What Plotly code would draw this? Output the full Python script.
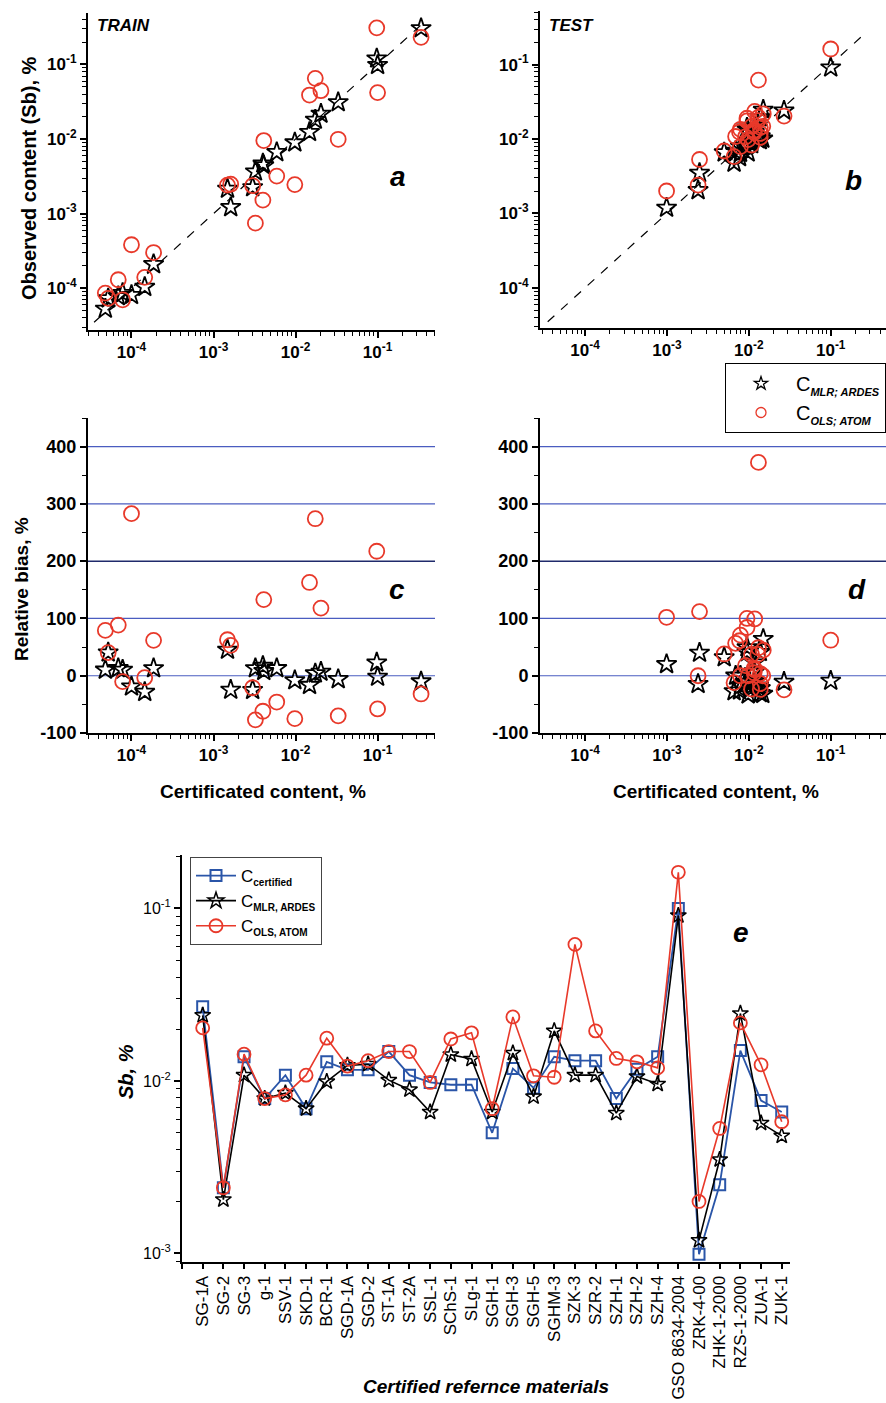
import plotly.graph_objects as go

# ---------------- DATA ----------------
# Training set (panels a, c): certified vs observed Sb content, %
train_cert = [4.8e-5, 5.2e-5, 6.9e-5, 7.8e-5, 1.0e-4, 1.45e-4, 1.86e-4, 1.48e-3, 1.62e-3,
              3.0e-3, 3.24e-3, 4.0e-3, 4.1e-3, 5.9e-3, 9.8e-3, 0.0148, 0.0174, 0.0204,
              0.0331, 0.0977, 0.100, 0.339]
train_mlr = [5.3e-5, 7.3e-5, 7.8e-5, 8.6e-5, 8.1e-5, 1.04e-4, 2.1e-4, 2.15e-3, 1.22e-3,
             2.25e-3, 3.66e-3, 4.68e-3, 4.43e-3, 6.67e-3, 9.0e-3, 0.0124, 0.0181, 0.0218,
             0.0311, 0.120, 0.098, 0.305]
train_ols = [8.6e-5, 7.3e-5, 1.30e-4, 7.0e-5, 3.83e-4, 1.40e-4, 3.01e-4, 2.41e-3, 2.48e-3,
             2.37e-3, 7.45e-4, 1.52e-3, 9.55e-3, 3.19e-3, 2.45e-3, 0.0389, 0.0651, 0.0445,
             0.00993, 0.310, 0.042, 0.231]

# Test set (panels b, d, e): certified reference materials
crm_names = ["SG-1A", "SG-2", "SG-3", "g-1", "SSV-1", "SKD-1", "BCR-1", "SGD-1A", "SGD-2",
             "ST-1A", "ST-2A", "SSL-1", "SChS-1", "SLg-1", "SGH-1", "SGH-3", "SGH-5",
             "SGHM-3", "SZK-3", "SZR-2", "SZH-1", "SZH-2", "SZH-4", "GSO 8634-2004",
             "ZRK-4-00", "ZHK-1-2000", "RZS-1-2000", "ZUA-1", "ZUK-1"]
c_certified = [0.0269, 0.0024, 0.0138, 0.0079, 0.0108, 0.0069, 0.0129, 0.0116, 0.0116,
               0.0148, 0.0108, 0.0098, 0.0095, 0.0095, 0.0050, 0.0118, 0.0091, 0.0138,
               0.0131, 0.0131, 0.0079, 0.0117, 0.0138, 0.100, 0.00099, 0.0025, 0.0150,
               0.0077, 0.0066]
c_mlr = [0.0240, 0.00205, 0.0108, 0.0079, 0.0085, 0.0069, 0.0099, 0.0123, 0.0125,
         0.0101, 0.0089, 0.0066, 0.0142, 0.0134, 0.0066, 0.0145, 0.0081, 0.0195,
         0.0108, 0.0108, 0.0065, 0.0106, 0.0096, 0.091, 0.00119, 0.0035, 0.0246,
         0.0057, 0.0048]
c_ols = [0.0203, 0.0024, 0.0143, 0.0079, 0.0083, 0.0108, 0.0177, 0.0122, 0.0131,
         0.0148, 0.0148, 0.0098, 0.0175, 0.0190, 0.0069, 0.0235, 0.0107, 0.0105,
         0.0619, 0.0195, 0.0135, 0.0129, 0.0119, 0.162, 0.0020, 0.0053, 0.0217,
         0.0124, 0.0058]

diag_train = [3.5e-5, 0.35]
diag_test = [3.5e-5, 0.26]
bias_lines = [0, 100, 200, 300, 400]

log_ticks = [1e-4, 1e-3, 1e-2, 1e-1]
log_ticktext = ["10<sup>-4</sup>", "10<sup>-3</sup>", "10<sup>-2</sup>", "10<sup>-1</sup>"]
e_ticks = [1e-3, 1e-2, 1e-1]
e_ticktext = ["10<sup>-3</sup>", "10<sup>-2</sup>", "10<sup>-1</sup>"]
bias_ticks = [-100, 0, 100, 200, 300, 400]
bias_ticktext = ["-100", "0", "100", "200", "300", "400"]


def rel_bias(obs, cert):
    return [100.0 * (o - c) / c for o, c in zip(obs, cert)]


# ---------------- STYLE ----------------
FONT = "Liberation Sans, Arial, sans-serif"
RED = "#e8392a"
BLUE = "#2a55a8"
W, H = 886, 1403


def px_x(p):
    return p / W


def px_y(p):
    return 1 - p / H


star_m = dict(symbol="star-open", size=15, color="black", line=dict(color="black", width=1.8))
circ_m = dict(symbol="circle-open", size=15, color=RED, line=dict(color=RED, width=1.8))

fig = go.Figure()

# panel a
fig.add_trace(go.Scatter(x=diag_train, y=diag_train, mode="lines", xaxis="x", yaxis="y",
                         line=dict(color="black", width=1.2, dash="dash"), showlegend=False))
fig.add_trace(go.Scatter(x=train_cert, y=train_mlr, mode="markers", xaxis="x", yaxis="y",
                         marker=star_m, showlegend=False))
fig.add_trace(go.Scatter(x=train_cert, y=train_ols, mode="markers", xaxis="x", yaxis="y",
                         marker=circ_m, showlegend=False))
# panel b
fig.add_trace(go.Scatter(x=diag_test, y=diag_test, mode="lines", xaxis="x2", yaxis="y2",
                         line=dict(color="black", width=1.2, dash="dash"), showlegend=False))
fig.add_trace(go.Scatter(x=c_certified, y=c_mlr, mode="markers", xaxis="x2", yaxis="y2",
                         marker=star_m, showlegend=False))
fig.add_trace(go.Scatter(x=c_certified, y=c_ols, mode="markers", xaxis="x2", yaxis="y2",
                         marker=circ_m, showlegend=False))
# panel c
fig.add_trace(go.Scatter(x=train_cert, y=rel_bias(train_mlr, train_cert), mode="markers",
                         xaxis="x3", yaxis="y3", marker=star_m, showlegend=False))
fig.add_trace(go.Scatter(x=train_cert, y=rel_bias(train_ols, train_cert), mode="markers",
                         xaxis="x3", yaxis="y3", marker=circ_m, showlegend=False))
# panel d
fig.add_trace(go.Scatter(x=c_certified, y=rel_bias(c_mlr, c_certified), mode="markers",
                         xaxis="x4", yaxis="y4", marker=star_m, showlegend=False))
fig.add_trace(go.Scatter(x=c_certified, y=rel_bias(c_ols, c_certified), mode="markers",
                         xaxis="x4", yaxis="y4", marker=circ_m, showlegend=False))

# legend entries for a-d
sub1 = "<span style='font-size:11px'><b><i>%s</i></b></span>"
fig.add_trace(go.Scatter(x=[None], y=[None], mode="markers", xaxis="x", yaxis="y",
                         marker=dict(symbol="star-open", size=10, color="black",
                                     line=dict(color="black", width=1.3)),
                         name="C<sub>" + sub1 % "MLR; ARDES" + "</sub>", legend="legend"))
fig.add_trace(go.Scatter(x=[None], y=[None], mode="markers", xaxis="x", yaxis="y",
                         marker=dict(symbol="circle-open", size=10, color=RED,
                                     line=dict(color=RED, width=1.3)),
                         name="C<sub>" + sub1 % "OLS; ATOM" + "</sub>", legend="legend"))

# panel e
idx = list(range(len(crm_names)))
sub2 = "<span style='font-size:10px'><b>%s</b></span>"
fig.add_trace(go.Scatter(x=idx, y=c_certified, mode="lines+markers", xaxis="x5", yaxis="y5",
                         line=dict(color=BLUE, width=1.8),
                         marker=dict(symbol="square-open", size=11, color=BLUE,
                                     line=dict(color=BLUE, width=2)),
                         name="C<sub>" + sub2 % "certified" + "</sub>", legend="legend2"))
fig.add_trace(go.Scatter(x=idx, y=c_mlr, mode="lines+markers", xaxis="x5", yaxis="y5",
                         line=dict(color="black", width=1.6),
                         marker=dict(symbol="star-open", size=12, color="black",
                                     line=dict(color="black", width=1.5)),
                         name="C<sub>" + sub2 % "MLR, ARDES" + "</sub>", legend="legend2"))
fig.add_trace(go.Scatter(x=idx, y=c_ols, mode="lines+markers", xaxis="x5", yaxis="y5",
                         line=dict(color=RED, width=1.6),
                         marker=dict(symbol="circle-open", size=13, color=RED,
                                     line=dict(color=RED, width=1.8)),
                         name="C<sub>" + sub2 % "OLS, ATOM" + "</sub>", legend="legend2"))

# ---------------- AXES ----------------
minor_log = [m * 10.0 ** e for e in range(-6, 1) for m in range(2, 10)]
base = dict(showline=True, linecolor="black", linewidth=2, ticks="outside", ticklen=6,
            tickwidth=1.5, tickcolor="black", showgrid=False, zeroline=False,
            automargin=False, mirror=False)
minor_l = dict(tickmode="array", tickvals=minor_log, ticks="outside", ticklen=4,
               tickcolor="black", tickwidth=1.2, showgrid=False)
logx = dict(base, type="log", tickmode="array", tickvals=log_ticks, ticktext=log_ticktext,
            tickfont=dict(family=FONT, size=17, color="black", weight="bold"),
            minor=minor_l)
biasy = dict(base, range=[-100, 450], tickmode="array",
             tickvals=bias_ticks, ticktext=bias_ticktext,
             tickfont=dict(family=FONT, size=18, color="black", weight="bold"),
             minor=dict(dtick=50, tick0=0, ticks="outside", ticklen=4, tickcolor="black",
                        tickwidth=1.2, showgrid=False))

xa_dom = [px_x(88), px_x(435)]
xb_dom = [px_x(540), 1.0]
y_cd_dom = [px_y(733), px_y(418)]

fig.update_layout(
    xaxis=dict(logx, domain=xa_dom, range=[-4.53, -0.30], anchor="y"),
    yaxis=dict(logx, domain=[px_y(330), px_y(13)], range=[-4.56, -0.31], anchor="x"),
    xaxis2=dict(logx, domain=xb_dom, range=[-4.55, -0.325], anchor="y2"),
    yaxis2=dict(logx, domain=[px_y(328), px_y(11)], range=[-4.54, -0.28], anchor="x2"),
    xaxis3=dict(logx, domain=xa_dom, range=[-4.53, -0.30], anchor="y3"),
    yaxis3=dict(biasy, domain=y_cd_dom, anchor="x3"),
    xaxis4=dict(logx, domain=xb_dom, range=[-4.55, -0.325], anchor="y4"),
    yaxis4=dict(biasy, domain=y_cd_dom, anchor="x4"),
    xaxis5=dict(base, domain=[px_x(182), px_x(790)], range=[-1, 28.4], anchor="y5",
                tickmode="array", tickvals=[-1] + idx, ticktext=[""] + crm_names,
                tickangle=-90, ticklen=5,
                tickfont=dict(family=FONT, size=17, color="black")),
    yaxis5=dict(base, type="log", domain=[px_y(1262), px_y(855)], range=[-3.05, -0.69],
                anchor="x5", tickmode="array", tickvals=e_ticks, ticktext=e_ticktext,
                tickfont=dict(family=FONT, size=16, color="black"), minor=minor_l),
    width=W, height=H, margin=dict(l=0, r=0, t=0, b=0),
    paper_bgcolor="white", plot_bgcolor="white",
    font=dict(family=FONT, color="black"),
    legend=dict(x=px_x(725), y=px_y(363), xanchor="left", yanchor="top",
                bordercolor="black", borderwidth=1, bgcolor="white",
                font=dict(family=FONT, size=20, color="black"), itemwidth=60,
                tracegroupgap=0),
    legend2=dict(x=px_x(190), y=px_y(857), xanchor="left", yanchor="top",
                 bordercolor="#444", borderwidth=1, bgcolor="white",
                 font=dict(family=FONT, size=17, color="black"), itemwidth=40,
                 tracegroupgap=0),
)

# horizontal reference lines in c, d
shapes = []
for xr, yr in (("x3 domain", "y3"), ("x4 domain", "y4")):
    for v in bias_lines:
        shapes.append(dict(type="line", xref=xr, yref=yr, x0=0, x1=1, y0=v, y1=v,
                           line=dict(color="#1f2a6b" if v == 200 else "#4a5cc0",
                                     width=1.6 if v == 200 else 1.2),
                           layer="below"))
fig.update_layout(shapes=shapes)


def ann(text, x, y, size, angle=0, xanchor="center", bold=True, italic=False):
    t = text
    if italic:
        t = "<i>" + t + "</i>"
    if bold:
        t = "<b>" + t + "</b>"
    fig.add_annotation(text=t, x=px_x(x), y=px_y(y), xref="paper", yref="paper",
                       showarrow=False, textangle=angle, xanchor=xanchor, yanchor="middle",
                       font=dict(family=FONT, size=size, color="black"))


ann("Observed content (Sb), %", 29, 178, 20, angle=-90)
ann("Relative bias, %", 22, 589, 19, angle=-90)
ann("Certificated content, %", 263, 791, 19)
ann("Certificated content, %", 716, 791, 19)
ann("Sb, %", 126, 1072, 20, angle=-90, italic=True)
ann("Certified refernce materials", 486, 1386, 19, italic=True)
ann("TRAIN", 95, 25, 17, xanchor="left", italic=True)
ann("TEST", 547, 25, 17, xanchor="left", italic=True)
ann("a", 398, 177, 28, italic=True)
ann("b", 853, 180, 28, italic=True)
ann("c", 397, 590, 28, italic=True)
ann("d", 857, 590, 28, italic=True)
ann("e", 741, 932, 28, italic=True)

fig.write_html("out.html", config={"displayModeBar": False},
               post_script="document.body.style.margin='0';document.body.style.padding='0';")
